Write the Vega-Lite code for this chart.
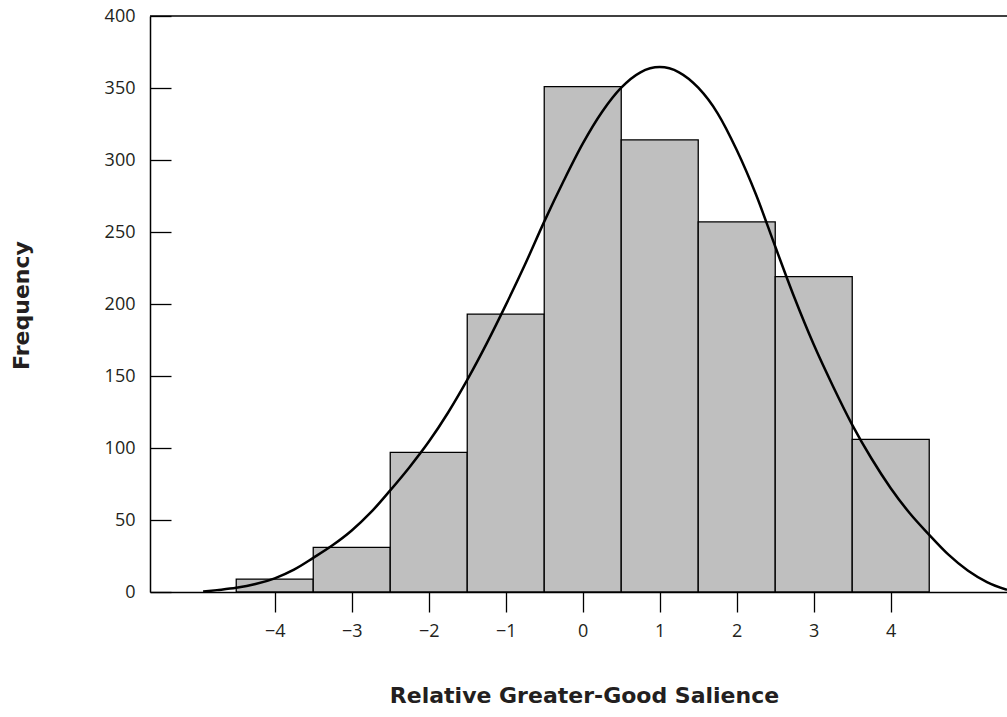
{
  "$schema": "https://vega.github.io/schema/vega-lite/v6.json",
  "autosize": "none",
  "width": 857,
  "height": 576,
  "padding": {"left": 150, "top": 16, "right": 0, "bottom": 125},
  "background": "white",
  "config": {
    "view": {"stroke": null},
    "font": "Open Sans",
    "axis": {
      "grid": false,
      "domainColor": "#000000",
      "domainWidth": 1.5,
      "tickColor": "#000000",
      "tickWidth": 1.3,
      "labelFont": "Open Sans",
      "labelFontSize": 18,
      "labelColor": "#231f20",
      "titleFont": "DejaVu Sans",
      "titleFontSize": 22,
      "titleFontWeight": "bold",
      "titleColor": "#231f20"
    }
  },
  "datasets": {
    "bins": [
      {"score": -4, "start": -4.5, "end": -3.5, "count": 9},
      {"score": -3, "start": -3.5, "end": -2.5, "count": 31},
      {"score": -2, "start": -2.5, "end": -1.5, "count": 97},
      {"score": -1, "start": -1.5, "end": -0.5, "count": 193},
      {"score": 0, "start": -0.5, "end": 0.5, "count": 351},
      {"score": 1, "start": 0.5, "end": 1.5, "count": 314},
      {"score": 2, "start": 1.5, "end": 2.5, "count": 257},
      {"score": 3, "start": 2.5, "end": 3.5, "count": 219},
      {"score": 4, "start": 3.5, "end": 4.5, "count": 106}
    ],
    "curve": [
      {"x": -4.93, "y": 0.3},
      {"x": -4.75, "y": 1.3},
      {"x": -4.5, "y": 2.9},
      {"x": -4.25, "y": 5.5},
      {"x": -4.0, "y": 9.5},
      {"x": -3.75, "y": 15.5},
      {"x": -3.5, "y": 23.7},
      {"x": -3.25, "y": 32.4},
      {"x": -3.0, "y": 42.7},
      {"x": -2.75, "y": 55.4},
      {"x": -2.5, "y": 70.6},
      {"x": -2.25, "y": 86.7},
      {"x": -2.0, "y": 104.3},
      {"x": -1.75, "y": 124.5},
      {"x": -1.5, "y": 147.3},
      {"x": -1.25, "y": 172.3},
      {"x": -1.0, "y": 199.2},
      {"x": -0.75, "y": 227.4},
      {"x": -0.5, "y": 257.2},
      {"x": -0.25, "y": 285.2},
      {"x": 0.0, "y": 311.3},
      {"x": 0.25, "y": 333.3},
      {"x": 0.5, "y": 350.2},
      {"x": 0.75, "y": 360.9},
      {"x": 1.0, "y": 364.5},
      {"x": 1.25, "y": 360.9},
      {"x": 1.5, "y": 350.2},
      {"x": 1.75, "y": 332.6},
      {"x": 2.0, "y": 306.9},
      {"x": 2.25, "y": 276.0},
      {"x": 2.5, "y": 239.9},
      {"x": 2.75, "y": 204.3},
      {"x": 3.0, "y": 171.8},
      {"x": 3.25, "y": 142.9},
      {"x": 3.5, "y": 116.1},
      {"x": 3.75, "y": 92.7},
      {"x": 4.0, "y": 72.1},
      {"x": 4.25, "y": 54.5},
      {"x": 4.5, "y": 39.7},
      {"x": 4.75, "y": 25.9},
      {"x": 5.0, "y": 14.9},
      {"x": 5.25, "y": 6.9},
      {"x": 5.51, "y": 1.5}
    ]
  },
  "layer": [
    {
      "data": {"name": "bins"},
      "mark": {"type": "rect", "fill": "#bfbfbf", "stroke": "#000000", "strokeWidth": 1.3},
      "encoding": {
        "x": {
          "field": "start",
          "type": "quantitative",
          "scale": {"domain": [-5.62, 5.51], "nice": false, "zero": false},
          "axis": {
            "title": "Relative Greater-Good Salience",
            "values": [-4, -3, -2, -1, 0, 1, 2, 3, 4],
            "format": "d",
            "tickSize": 20,
            "labelPadding": 10,
            "titleX": 434,
            "titleY": 110,
            "titleBaseline": "alphabetic",
            "titleAlign": "center"
          }
        },
        "x2": {"field": "end"},
        "y": {
          "field": "count",
          "type": "quantitative",
          "scale": {"domain": [0, 400], "nice": false},
          "axis": {
            "title": "Frequency",
            "values": [0, 50, 100, 150, 200, 250, 300, 350, 400],
            "tickSize": -21,
            "labelPadding": 36,
            "titleAngle": 270,
            "titleX": -129,
            "titleY": 289,
            "titleBaseline": "middle",
            "titleAlign": "center"
          }
        },
        "y2": {"datum": 0}
      }
    },
    {
      "data": {"name": "curve"},
      "mark": {"type": "line", "color": "#000000", "strokeWidth": 2.5, "interpolate": "monotone", "clip": true},
      "encoding": {
        "x": {"field": "x", "type": "quantitative"},
        "y": {"field": "y", "type": "quantitative"}
      }
    },
    {
      "data": {"values": [{}]},
      "mark": {"type": "rule", "color": "#000000", "strokeWidth": 1.5},
      "encoding": {"y": {"datum": 400}}
    }
  ]
}
